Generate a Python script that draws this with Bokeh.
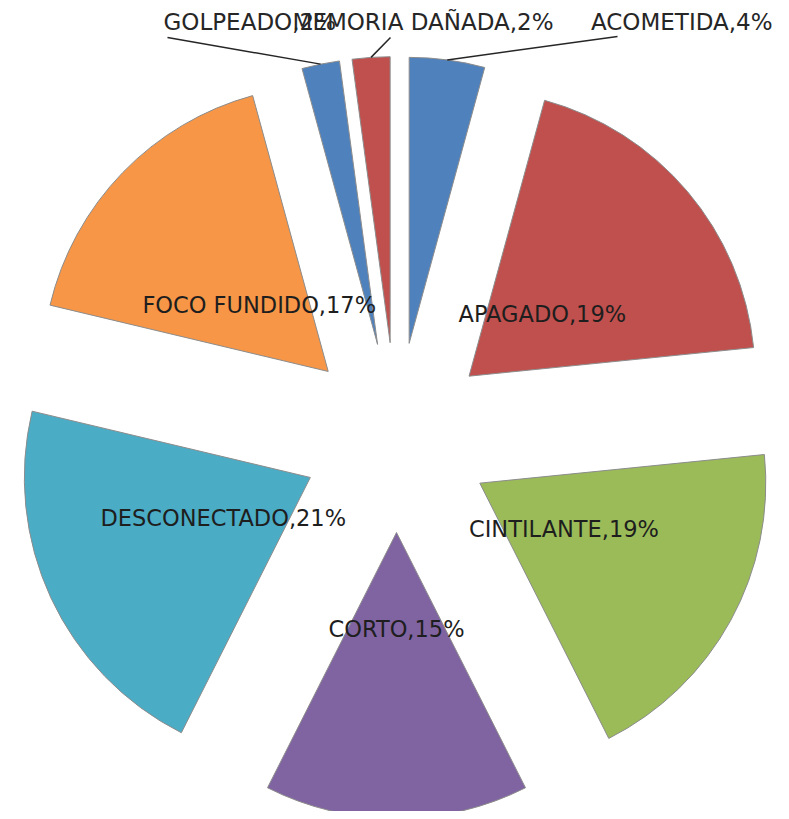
import math
from bokeh.plotting import figure
from bokeh.models import Range1d, ColumnDataSource
from bokeh.core.properties import value
from bokeh.embed import file_html
from bokeh.resources import INLINE

# ---- data ----
categories = ["ACOMETIDA", "APAGADO", "CINTILANTE", "CORTO", "DESCONECTADO",
              "FOCO FUNDIDO", "GOLPEADO", "MEMORIA DAÑADA"]
counts = [2, 9, 9, 7, 10, 8, 1, 1]
colors = ["#4F81BD", "#C0504D", "#9BBB59", "#8064A2", "#4BACC6",
          "#F79646", "#4F81BD", "#C0504D"]

# ---- layout (screen pixel coordinates) ----
CX, CY = 396.0, 437.0      # pie centre
R = 286.0                  # pie radius
EXPLODE = 95.0             # explosion distance
LABEL_OFF = 96.0           # inner label distance from slice apex
W, H = 781, 811
FONT = "DejaVu Sans"

total = float(sum(counts))
pcts = [c / total * 100 for c in counts]
labels = ["%s,%d%%" % (c, round(p)) for c, p in zip(categories, pcts)]

p = figure(width=W, height=H, output_backend="svg", toolbar_location=None,
           x_range=Range1d(0, W), y_range=Range1d(-H, 0),
           min_border=0, outline_line_color=None)
p.xaxis.visible = False
p.yaxis.visible = False
p.xgrid.visible = False
p.ygrid.visible = False
p.background_fill_color = "white"
p.border_fill_color = "white"

xs, ys, starts, ends = [], [], [], []
mids = []
acc = 0.0
for c in counts:
    t0 = acc / total * 360.0
    acc += c
    t1 = acc / total * 360.0
    tm = math.radians((t0 + t1) / 2)
    ax = CX + EXPLODE * math.sin(tm)
    ay = CY - EXPLODE * math.cos(tm)
    xs.append(ax)
    ys.append(-ay)
    starts.append(90.0 - t1)
    ends.append(90.0 - t0)
    mids.append(tm)

src = ColumnDataSource(dict(x=xs, y=ys, start=starts, end=ends, color=colors))
p.wedge(x="x", y="y", radius=R, start_angle="start", end_angle="end",
        start_angle_units="deg", end_angle_units="deg",
        fill_color="color", line_color="#8c8c8c", line_width=1, source=src)

# inner labels for the large slices
inner = [1, 2, 3, 4, 5]
lx = [xs[i] + LABEL_OFF * math.sin(mids[i]) for i in inner]
ly = [ys[i] + LABEL_OFF * math.cos(mids[i]) for i in inner]
p.text(x=lx, y=ly, text=[labels[i] for i in inner], text_align="center",
       text_baseline="middle", text_font=value(FONT), text_font_size="22.5px",
       text_color="#1e1e1e")

# outer labels for the small slices, with leader lines
outer = [0, 6, 7]
label_pos = {0: (772, -21, "right"), 6: (163, -21, "left"), 7: (553, -21, "right")}
leader_end = {0: (617, -36), 6: (167, -37), 7: (390, -37)}
for i in outer:
    ex = xs[i] + R * math.sin(mids[i])
    ey = ys[i] + R * math.cos(mids[i])
    kx, ky = leader_end[i]
    p.line([ex, kx], [ey, ky], line_color="#262626", line_width=1.5)
    tx, ty, al = label_pos[i]
    p.text(x=[tx], y=[ty], text=[labels[i]], text_align=al,
           text_baseline="middle", text_font=value(FONT),
           text_font_size="23px", text_color="#262626")

open("out.html", "w").write(file_html(p, INLINE))
